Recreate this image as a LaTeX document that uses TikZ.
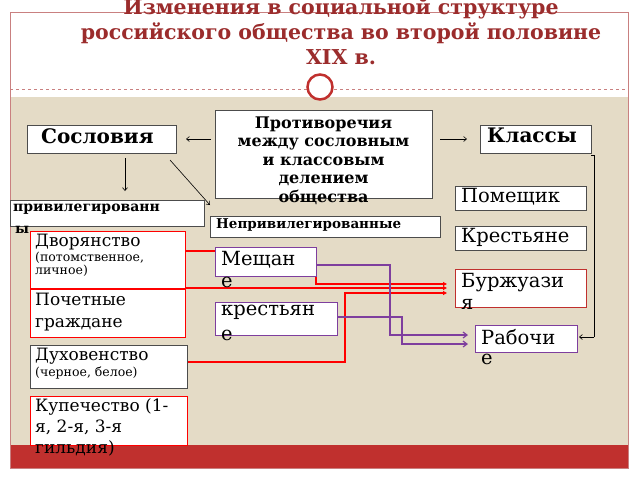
\documentclass[tikz,border=0pt]{standalone}
\usepackage{fontspec}
\setmainfont{DejaVu Serif}
\usetikzlibrary{arrows.meta}
\definecolor{bg}{HTML}{E4DBC6}
\definecolor{dred}{HTML}{9B2C2C}
\definecolor{band}{HTML}{C0302E}
\definecolor{fr}{HTML}{C98080}
\definecolor{pur}{HTML}{7E3E9E}
\begin{document}
\begin{tikzpicture}[x=1pt,y=-1pt,
 box/.style={draw=#1,fill=white,line width=1.2pt,anchor=north west,inner sep=0pt},
 gbox/.style={draw=black!70,fill=white,line width=0.8pt,anchor=north west,inner sep=0pt},
 lbl/.style={anchor=north west,inner sep=0pt,align=left},
 big/.style={font=\fontsize{19.5}{22}\selectfont},
 ar/.style={-{Straight Barb[length=3pt,width=5pt]},line width=0.6pt}]
\useasboundingbox (0,0) rectangle (640,480);
\fill[white] (0,0) rectangle (640,480);
\fill[bg] (10,97) rectangle (628,468);
\fill[band] (10,445) rectangle (628,468);
\draw[fr,line width=0.6pt] (10,12) rectangle (628,468);
\draw[fr,dashed,line width=0.5pt] (10,89) -- (628,89);
\node[circle,draw=band,fill=white,line width=2.5pt,minimum size=25pt,inner sep=0pt] (ring) at (320,87) {};
\node[text=dred,font=\bfseries\fontsize{20.5}{25}\selectfont,align=center] (title) at (341,31) {Изменения в социальной структуре\\российского общества во второй половине\\XIX в.};
% top row
\node[gbox,minimum width=217pt,minimum height=88pt] (pr) at (215,110) {};
\node[font=\bfseries\fontsize{16}{18.5}\selectfont,align=center,anchor=north] (prt) at (323.5,113) {Противоречия\\между сословным\\и классовым\\делением\\общества};
\node[gbox,minimum width=149pt,minimum height=28pt] (sos) at (27,125) {};
\node[lbl,font=\bfseries\fontsize{20}{22}\selectfont] (sost) at (41,128) {Сословия};
\node[gbox,minimum width=111pt,minimum height=28pt] (kl) at (480,125) {};
\node[lbl,font=\bfseries\fontsize{20}{22}\selectfont] (klt) at (487,128) {Классы};
\coordinate (a1) at (211,139); \coordinate (a2) at (186,139);
\coordinate (b1) at (440,139); \coordinate (b2) at (467,139);
\draw[ar] (a1) -- (a2);
\draw[ar] (b1) -- (b2);
% middle
\node[gbox,minimum width=230pt,minimum height=21pt] (nepr) at (210,216) {};
\node[lbl,font=\bfseries\fontsize{13.5}{15}\selectfont] (neprt) at (216,218) {Непривилегированные};
\node[gbox,minimum width=194pt,minimum height=26pt] (pri) at (10,200) {};
\node[lbl,font=\bfseries\fontsize{14}{15}\selectfont] (prit) at (13,204) {привилегированн};
\node[lbl,font=\bfseries\fontsize{14}{15}\selectfont] (pri2) at (15,226) {ы};
\coordinate (s1) at (125,158); \coordinate (s2) at (125,191);
\coordinate (s3) at (170,160); \coordinate (s4) at (210,205);
\draw[ar] (s1) -- (s2);
\draw[ar] (s3) -- (s4);
\node[gbox,minimum width=131pt,minimum height=24pt] (pom) at (455,186) {};
\node[lbl,big] (pomt) at (461,188) {Помещик};
\node[gbox,minimum width=131pt,minimum height=24pt] (kr) at (455,226) {};
\node[lbl,big] (krt) at (461,228) {Крестьяне};
\node[box=band,minimum width=131pt,minimum height=38pt] (bur) at (455,269) {};
\node[lbl,big] (burt) at (461,273) {Буржуази};
\node[lbl,big] (bur2) at (461,299) {я};
\node[box=pur,line width=0.9pt,minimum width=102pt,minimum height=27pt] (rab) at (475,325) {};
\node[lbl,big] (rabt) at (481,329) {Рабочи};
\node[lbl,big] (rab2) at (481,354) {е};
\coordinate (k1) at (591,155); \coordinate (k2) at (594,155); \coordinate (k3) at (594,337); \coordinate (k4) at (579,337);
\draw[line width=0.6pt] (k1) -- (k2) -- (k3);
\draw[ar] (k3) -- (k4);
% left column
\node[box=red,minimum width=155pt,minimum height=57pt] (dv) at (30,231) {};
\node[lbl] (dvt) at (35,234) {{\fontsize{17}{18}\selectfont Дворянство}\\[1pt]{\fontsize{12.5}{14}\selectfont (потомственное,}\\[1pt]{\fontsize{12.5}{14}\selectfont личное)}};
\node[box=red,minimum width=155pt,minimum height=48pt] (poc) at (30,289) {};
\node[lbl,font=\fontsize{17}{22}\selectfont] (poct) at (35,293) {Почетные\\граждане};
\node[gbox,minimum width=157pt,minimum height=43pt] (duh) at (30,345) {};
\node[lbl] (duht) at (35,348) {{\fontsize{17}{18}\selectfont Духовенство}\\[1pt]{\fontsize{12.5}{14}\selectfont (черное, белое)}};
\node[box=red,minimum width=157pt,minimum height=49pt] (kup) at (30,396) {};
\node[lbl,font=\fontsize{17}{21}\selectfont] (kupt) at (35,398) {Купечество (1-\\я, 2-я, 3-я\\гильдия)};
% red connectors
\coordinate (r1) at (316,251); \coordinate (r2) at (316,284); \coordinate (r3) at (447,284);
\coordinate (q1) at (185,288); \coordinate (q2) at (447,288);
\coordinate (d1) at (345,362); \coordinate (d2) at (345,293); \coordinate (d3) at (447,293);
\draw[red,line width=1.2pt,-{Triangle[length=4pt,width=4pt]}] (dv.east|-r1) -- (r1) -- (r2) -- (r3);
\draw[red,line width=1.2pt,-{Triangle[length=4pt,width=4pt]}] (q1) -- (q2);
\draw[red,line width=1.2pt,-{Triangle[length=4pt,width=4pt]}] (duh.east|-d1) -- (d1) -- (d2) -- (d3);
% purple boxes
\node[box=pur,line width=0.9pt,minimum width=101pt,minimum height=29pt] (mesh) at (215,247) {};
\node[lbl,big] (mesht) at (221,251) {Мещан};
\node[lbl,big] (mesh2) at (221,277) {е};
\node[box=pur,line width=0.9pt,minimum width=122pt,minimum height=33pt] (kres) at (215,302) {};
\node[lbl,big] (krest) at (221,305) {крестьян};
\node[lbl,big] (kres2) at (221,330) {е};
\coordinate (m1) at (390,265); \coordinate (m2) at (390,335); \coordinate (m3) at (468,335);
\coordinate (c1) at (402,317); \coordinate (c2) at (402,344); \coordinate (c3) at (468,344);
\draw[pur,line width=1.2pt,-{Straight Barb[length=4pt,width=6pt]}] (mesh.east|-m1) -- (m1) -- (m2) -- (m3);
\draw[pur,line width=1.2pt,-{Straight Barb[length=4pt,width=6pt]}] (kres.east|-c1) -- (c1) -- (c2) -- (c3);
\end{tikzpicture}
\end{document}
